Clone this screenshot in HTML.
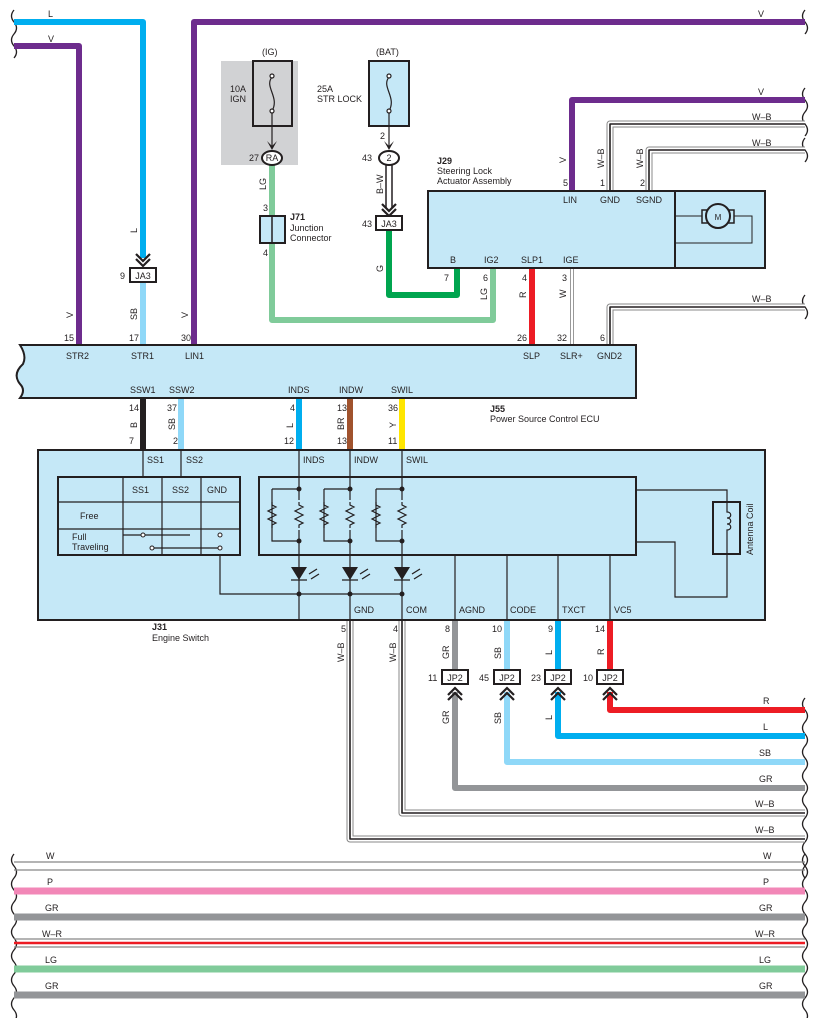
<!DOCTYPE html>
<html><head><meta charset="utf-8"><style>
html,body{margin:0;padding:0;background:#fff}
svg{display:block;font-family:"Liberation Sans",sans-serif}
text{font-size:9px;fill:#231f20}
.s{font-size:8px}
.b{font-weight:bold}
</style></head><body>
<svg width="817" height="1018" viewBox="0 0 817 1018" xmlns="http://www.w3.org/2000/svg">
<defs>
<g id="chev"><path d="M-7,-8 L0,-1 L7,-8 M-7,-3 L0,4 L7,-3" fill="none" stroke="#231f20" stroke-width="2.2"/></g>
<g id="chevu"><path d="M-7,8 L0,1 L7,8 M-7,3 L0,-4 L7,3" fill="none" stroke="#231f20" stroke-width="2.2"/></g>
<path id="res" d="M0,0 l0,3 l4,2 l-8,4 l8,4 l-8,4 l8,4 l-4,2 l0,3" fill="none" stroke="#231f20" stroke-width="1.2"/>
</defs>
<g fill="none" stroke="#231f20" stroke-width="1.3">
<path d="M14,10 q-5,6 0,12 q5,6 0,12 M14,34 q-5,6 0,12 q5,6 0,12"/>
<path d="M805,10 q-5,6 0,12 q5,6 0,12 M805,88 q-5,6 0,12 q5,6 0,12 M805,112 q-5,6 0,12 q5,6 0,12 M805,138 q-5,6 0,12 q5,6 0,12 M805,295 q-5,6 0,12 q5,6 0,12"/>
<path d="M805,698 q-5,6 0,12 q5,6 0,12 q-5,6 0,12 q5,6 0,12 q-5,6 0,12 q5,6 0,12 q-5,6 0,12 q5,6 0,12 q-5,6 0,12 q5,6 0,12 q-5,6 0,12 q5,6 0,12 q-5,6 0,12 q5,6 0,12 q-5,6 0,12"/>
<path d="M14,854 q-5,6 0,12 q5,6 0,12 q-5,6 0,12 q5,6 0,12 q-5,6 0,12 q5,6 0,12 q-5,6 0,12 q5,6 0,12 q-5,6 0,12 q5,6 0,12 q-5,6 0,12 q5,6 0,12 q-5,6 0,12 q5,6 0,12"/>
<path d="M805,854 q-5,6 0,12 q5,6 0,12 q-5,6 0,12 q5,6 0,12 q-5,6 0,12 q5,6 0,12 q-5,6 0,12 q5,6 0,12 q-5,6 0,12 q5,6 0,12 q-5,6 0,12 q5,6 0,12 q-5,6 0,12 q5,6 0,12"/>
</g>
<!-- fuse IG grey area -->
<rect x="221" y="61" width="77" height="104" fill="#d1d2d4"/>
<!-- top wires -->
<g fill="none" stroke-linejoin="round">
<path d="M14,22 H143 V258" stroke="#00aeef" stroke-width="6"/>
<path d="M143,282 V345" stroke="#8fd8f8" stroke-width="6"/>
<path d="M14,46 H79 V345" stroke="#6d2c8d" stroke-width="6"/>
<path d="M194,345 V22 H805" stroke="#6d2c8d" stroke-width="6"/>
<path d="M572,191 V100 H805" stroke="#6d2c8d" stroke-width="6"/>
<path d="M272,165 V320 H493 V268" stroke="#80cb9a" stroke-width="6"/>
<path d="M389,230 V295 H457 V268" stroke="#00a54f" stroke-width="6"/>
<path d="M532,268 V345" stroke="#ed1c24" stroke-width="6"/>
<path d="M572,268 V345" stroke="#999" stroke-width="4"/><path d="M572,268 V345" stroke="#fff" stroke-width="2"/>
<g stroke="#888" stroke-width="7"><path d="M610,191 V124 H805 M649,191 V150 H805 M610,345 V307 H805"/></g>
<g stroke="#fff" stroke-width="5"><path d="M610,191 V124 H805 M649,191 V150 H805 M610,345 V307 H805"/></g>
<g stroke="#231f20" stroke-width="1.6"><path d="M610,191 V124 H805 M649,191 V150 H805 M610,345 V307 H805"/></g>
<!-- J55 to J31 -->
<path d="M143,398 V450" stroke="#231f20" stroke-width="6"/>
<path d="M181,398 V450" stroke="#8fd8f8" stroke-width="6"/>
<path d="M299,398 V450" stroke="#00aeef" stroke-width="6"/>
<path d="M350,398 V450" stroke="#a0522d" stroke-width="6"/>
<path d="M402,398 V450" stroke="#ffe600" stroke-width="6"/>
<!-- bottom J31 wires -->
<g stroke="#888" stroke-width="7"><path d="M350,620 V839 H805 M402,620 V813 H805"/></g>
<g stroke="#fff" stroke-width="5"><path d="M350,620 V839 H805 M402,620 V813 H805"/></g>
<g stroke="#231f20" stroke-width="1.6"><path d="M350,620 V839 H805 M402,620 V813 H805"/></g>
<path d="M455,620 V670 M455,692 V788 H805" stroke="#939598" stroke-width="6"/>
<path d="M507,620 V670 M507,692 V762 H805" stroke="#8fd8f8" stroke-width="6"/>
<path d="M558,620 V670 M558,692 V736 H805" stroke="#00aeef" stroke-width="6"/>
<path d="M610,620 V670 M610,692 V710 H805" stroke="#ed1c24" stroke-width="6"/>
<!-- bottom bus lines -->
<path d="M14,862 H805 M14,870 H805" stroke="#888" stroke-width="1.2"/>
<path d="M14,891 H805" stroke="#f287b7" stroke-width="7"/>
<path d="M14,917 H805" stroke="#939598" stroke-width="7"/>
<path d="M14,939 H805 M14,947 H805" stroke="#888" stroke-width="1.2"/>
<path d="M14,943 H805" stroke="#ed1c24" stroke-width="2.5"/>
<path d="M14,969 H805" stroke="#80cb9a" stroke-width="7"/>
<path d="M14,995 H805" stroke="#939598" stroke-width="7"/>
</g>
<!-- fuses -->
<rect x="253" y="61" width="39" height="65" fill="none" stroke="#231f20" stroke-width="2"/>
<rect x="369" y="61" width="40" height="65" fill="#c5e8f7" stroke="#231f20" stroke-width="2"/>
<g fill="none" stroke="#231f20" stroke-width="1.2">
<path d="M272,77 c-8,10 8,20 0,34 M389,77 c-8,10 8,20 0,34"/>
<circle cx="272" cy="76" r="2" fill="#fff"/><circle cx="272" cy="111" r="2" fill="#fff"/>
<circle cx="389" cy="76" r="2" fill="#fff"/><circle cx="389" cy="111" r="2" fill="#fff"/>
<path d="M272,113 V148 M389,113 V148"/>
</g>
<path d="M267,141 L272,150 L277,141 L272,146Z M384,141 L389,150 L394,141 L389,146Z" fill="#231f20"/>
<ellipse cx="272" cy="158" rx="10" ry="7" fill="#fff" stroke="#231f20" stroke-width="2"/>
<text x="272" y="161" text-anchor="middle">RA</text>
<ellipse cx="389" cy="158" rx="10" ry="7" fill="#fff" stroke="#231f20" stroke-width="2"/>
<text x="389" y="161" text-anchor="middle">2</text>
<path d="M386,165 V208 M392,165 V208" stroke="#231f20" stroke-width="1.5"/>
<use href="#chev" x="389" y="212"/>
<use href="#chev" x="143" y="262"/>
<rect x="130" y="268" width="26" height="14" fill="#fff" stroke="#231f20" stroke-width="2"/>
<text x="143" y="279" text-anchor="middle">JA3</text>
<rect x="376" y="216" width="26" height="14" fill="#fff" stroke="#231f20" stroke-width="2"/>
<text x="389" y="227" text-anchor="middle">JA3</text>
<rect x="260" y="216" width="25" height="27" fill="#c5e8f7" stroke="#231f20" stroke-width="2"/>
<path d="M272,216 V243" stroke="#231f20" stroke-width="1.5"/>
<!-- J29 -->
<rect x="428" y="191" width="337" height="77" fill="#c5e8f7" stroke="#231f20" stroke-width="2"/>
<path d="M675,191 V268" stroke="#231f20" stroke-width="2"/>
<path d="M676,216 H703 M733,216 H752 V243 H676" fill="none" stroke="#231f20" stroke-width="1"/>
<rect x="702" y="210" width="32" height="13" fill="#c5e8f7" stroke="#231f20" stroke-width="1.5"/>
<circle cx="718" cy="216" r="12" fill="#c5e8f7" stroke="#231f20" stroke-width="2"/>
<text x="718" y="220" text-anchor="middle" class="s">M</text>
<!-- J55 -->
<path d="M20,345 H636 V398 H20 q6,-8 0,-14 q-8,-10 3,-20 q4,-8 -3,-19Z" fill="#c5e8f7" stroke="#231f20" stroke-width="2"/>
<!-- J31 -->
<rect x="38" y="450" width="727" height="170" fill="#c5e8f7" stroke="#231f20" stroke-width="2"/>
<g fill="none" stroke="#231f20" stroke-width="1.2">
<path d="M143,450 V477 M181,450 V477"/>
<path d="M299,450 V620 M350,450 V620 M402,450 V620"/>
<path d="M455,555 V620 M507,555 V620 M558,555 V620 M610,555 V620"/>
<path d="M220,555 V594 H402"/>
<path d="M636,490 H727 V597 H675 V542 H636"/>
<path d="M272,489 H299 M272,489 V541 H299 M324,489 H350 M324,489 V541 H350 M376,489 H402 M376,489 V541 H402"/>
<path d="M123,535 H190 M152,548 H220"/>
</g>
<rect x="58" y="477" width="182" height="78" fill="none" stroke="#231f20" stroke-width="2"/>
<path d="M123,477 V555 M162,477 V555 M201,477 V555 M58,502 H240 M58,529 H240" stroke="#231f20" stroke-width="1.2"/>
<g fill="#fff" stroke="#231f20" stroke-width="1"><circle cx="143" cy="535" r="2"/><circle cx="220" cy="535" r="2"/><circle cx="152" cy="548" r="2"/><circle cx="220" cy="548" r="2"/></g>
<rect x="259" y="477" width="377" height="78" fill="none" stroke="#231f20" stroke-width="2"/>
<g fill="#c5e8f7"><rect x="296" y="500" width="6" height="30"/><rect x="347" y="500" width="6" height="30"/><rect x="399" y="500" width="6" height="30"/></g>
<use href="#res" x="272" y="502"/><use href="#res" x="299" y="502"/>
<use href="#res" x="324" y="502"/><use href="#res" x="350" y="502"/>
<use href="#res" x="376" y="502"/><use href="#res" x="402" y="502"/>
<g fill="#231f20">
<circle cx="299" cy="489" r="2.5"/><circle cx="299" cy="541" r="2.5"/><circle cx="350" cy="489" r="2.5"/><circle cx="350" cy="541" r="2.5"/><circle cx="402" cy="489" r="2.5"/><circle cx="402" cy="541" r="2.5"/>
<circle cx="299" cy="594" r="2.5"/><circle cx="350" cy="594" r="2.5"/><circle cx="402" cy="594" r="2.5"/>
<path d="M291,567 H307 L299,580Z M342,567 H358 L350,580Z M394,567 H410 L402,580Z"/>
</g>
<g stroke="#231f20" stroke-width="1.3" fill="none">
<path d="M291,580 H307 M342,580 H358 M394,580 H410"/>
<path d="M309,574 l8,-5 M311,579 l8,-5 M360,574 l8,-5 M362,579 l8,-5 M412,574 l8,-5 M414,579 l8,-5"/>
</g>
<rect x="713" y="502" width="27" height="52" fill="#c5e8f7" stroke="#231f20" stroke-width="2"/>
<path d="M727,502 V512 c5,0 5,6 0,6 c5,0 5,6 0,6 c5,0 5,6 0,6 V554" fill="none" stroke="#231f20" stroke-width="1.2"/>
<!-- JP2 -->
<g fill="#fff" stroke="#231f20" stroke-width="2">
<rect x="442" y="670" width="26" height="14"/><rect x="494" y="670" width="26" height="14"/><rect x="545" y="670" width="26" height="14"/><rect x="597" y="670" width="26" height="14"/>
</g>
<text x="455" y="681" text-anchor="middle">JP2</text><text x="507" y="681" text-anchor="middle">JP2</text><text x="558" y="681" text-anchor="middle">JP2</text><text x="610" y="681" text-anchor="middle">JP2</text>
<use href="#chevu" x="455" y="692"/><use href="#chevu" x="507" y="692"/><use href="#chevu" x="558" y="692"/><use href="#chevu" x="610" y="692"/>
<!-- labels -->
<g>
<text x="48" y="17">L</text><text x="48" y="42">V</text>
<text x="758" y="17">V</text><text x="758" y="95">V</text><text x="752" y="120">W–B</text><text x="752" y="146">W–B</text><text x="752" y="302">W–B</text>
<text x="262" y="55">(IG)</text><text x="376" y="55">(BAT)</text>
<text x="230" y="92">10A</text><text x="230" y="102">IGN</text>
<text x="317" y="92">25A</text><text x="317" y="102">STR LOCK</text>
<text x="249" y="161">27</text><text x="362" y="161">43</text><text x="380" y="139">2</text>
<text x="362" y="227">43</text><text x="120" y="279">9</text>
<text x="263" y="211">3</text><text x="263" y="256">4</text>
<text x="290" y="220" class="b">J71</text><text x="290" y="231">Junction</text><text x="290" y="241">Connector</text>
<text x="437" y="164" class="b">J29</text><text x="437" y="174">Steering Lock</text><text x="437" y="184">Actuator Assembly</text>
<text x="563" y="186">5</text><text x="600" y="186">1</text><text x="640" y="186">2</text>
<text x="563" y="203">LIN</text><text x="600" y="203">GND</text><text x="636" y="203">SGND</text>
<text x="450" y="263">B</text><text x="484" y="263">IG2</text><text x="521" y="263">SLP1</text><text x="563" y="263">IGE</text>
<text x="444" y="281">7</text><text x="483" y="281">6</text><text x="522" y="281">4</text><text x="562" y="281">3</text>
<text x="517" y="341">26</text><text x="557" y="341">32</text><text x="600" y="341">6</text>
<text x="64" y="341">15</text><text x="129" y="341">17</text><text x="181" y="341">30</text>
<text x="66" y="359">STR2</text><text x="131" y="359">STR1</text><text x="185" y="359">LIN1</text>
<text x="523" y="359">SLP</text><text x="560" y="359">SLR+</text><text x="597" y="359">GND2</text>
<text x="130" y="393">SSW1</text><text x="169" y="393">SSW2</text><text x="288" y="393">INDS</text><text x="339" y="393">INDW</text><text x="391" y="393">SWIL</text>
<text x="129" y="411">14</text><text x="167" y="411">37</text><text x="290" y="411">4</text><text x="337" y="411">13</text><text x="388" y="411">36</text>
<text x="129" y="444">7</text><text x="173" y="444">2</text><text x="284" y="444">12</text><text x="337" y="444">13</text><text x="388" y="444">11</text>
<text x="490" y="412" class="b">J55</text><text x="490" y="422">Power Source Control ECU</text>
<text x="147" y="463">SS1</text><text x="186" y="463">SS2</text><text x="303" y="463">INDS</text><text x="354" y="463">INDW</text><text x="406" y="463">SWIL</text>
<text x="132" y="493">SS1</text><text x="172" y="493">SS2</text><text x="207" y="493">GND</text>
<text x="80" y="519">Free</text><text x="72" y="540">Full</text><text x="72" y="550">Traveling</text>
<text x="354" y="613">GND</text><text x="406" y="613">COM</text><text x="459" y="613">AGND</text><text x="510" y="613">CODE</text><text x="562" y="613">TXCT</text><text x="614" y="613">VC5</text>
<text x="152" y="630" class="b">J31</text><text x="152" y="641">Engine Switch</text>
<text x="341" y="632">5</text><text x="393" y="632">4</text><text x="445" y="632">8</text><text x="492" y="632">10</text><text x="548" y="632">9</text><text x="595" y="632">14</text>
<text x="428" y="681">11</text><text x="479" y="681">45</text><text x="531" y="681">23</text><text x="583" y="681">10</text>
<text x="763" y="704">R</text><text x="763" y="730">L</text><text x="759" y="756">SB</text><text x="759" y="782">GR</text><text x="755" y="807">W–B</text><text x="755" y="833">W–B</text>
<text x="46" y="859">W</text><text x="763" y="859">W</text><text x="47" y="885">P</text><text x="763" y="885">P</text>
<text x="45" y="911">GR</text><text x="759" y="911">GR</text><text x="42" y="937">W–R</text><text x="755" y="937">W–R</text>
<text x="45" y="963">LG</text><text x="759" y="963">LG</text><text x="45" y="989">GR</text><text x="759" y="989">GR</text>
</g>
<!-- vertical labels -->
<g>
<text transform="translate(137,233) rotate(-90)">L</text>
<text transform="translate(73,318) rotate(-90)">V</text>
<text transform="translate(137,320) rotate(-90)">SB</text>
<text transform="translate(188,318) rotate(-90)">V</text>
<text transform="translate(266,190) rotate(-90)">LG</text>
<text transform="translate(383,194) rotate(-90)">B–W</text>
<text transform="translate(383,272) rotate(-90)">G</text>
<text transform="translate(566,163) rotate(-90)">V</text>
<text transform="translate(604,168) rotate(-90)">W–B</text>
<text transform="translate(643,168) rotate(-90)">W–B</text>
<text transform="translate(487,300) rotate(-90)">LG</text>
<text transform="translate(526,298) rotate(-90)">R</text>
<text transform="translate(566,298) rotate(-90)">W</text>
<text transform="translate(137,428) rotate(-90)">B</text>
<text transform="translate(175,430) rotate(-90)">SB</text>
<text transform="translate(293,428) rotate(-90)">L</text>
<text transform="translate(344,430) rotate(-90)">BR</text>
<text transform="translate(396,428) rotate(-90)">Y</text>
<text transform="translate(344,662) rotate(-90)">W–B</text>
<text transform="translate(396,662) rotate(-90)">W–B</text>
<text transform="translate(449,659) rotate(-90)">GR</text>
<text transform="translate(501,659) rotate(-90)">SB</text>
<text transform="translate(552,655) rotate(-90)">L</text>
<text transform="translate(604,655) rotate(-90)">R</text>
<text transform="translate(449,724) rotate(-90)">GR</text>
<text transform="translate(501,724) rotate(-90)">SB</text>
<text transform="translate(552,720) rotate(-90)">L</text>
<text transform="translate(753,555) rotate(-90)">Antenna Coil</text>
</g>
</svg>
</body></html>
